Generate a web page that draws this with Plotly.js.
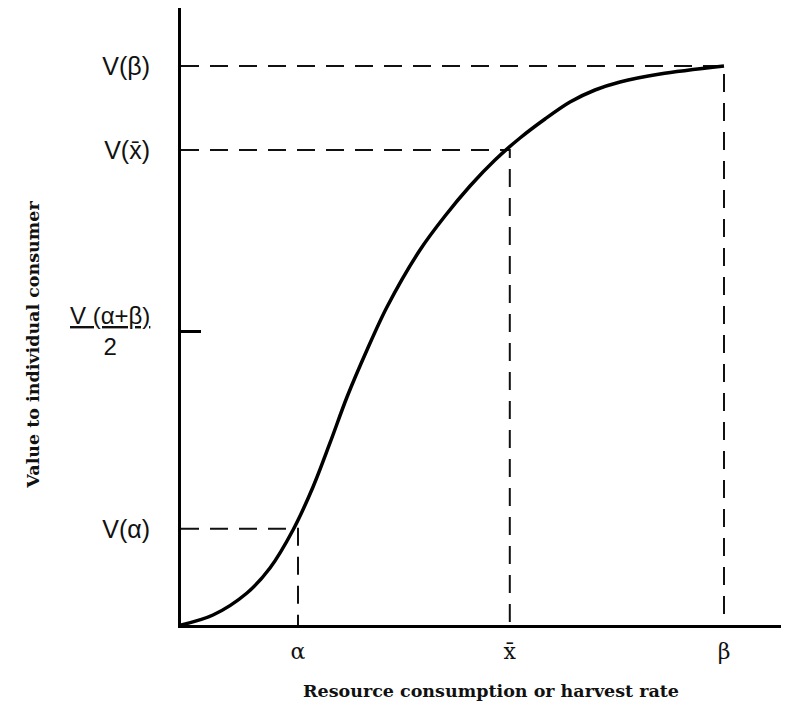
<!DOCTYPE html>
<html>
<head>
<meta charset="utf-8">
<script src="https://cdn.plot.ly/plotly-3.0.1.min.js"></script>
<style>html,body{margin:0;padding:0;background:#fff;}#chart{width:792px;height:711px;}</style>
</head>
<body>
<div id="chart"></div>
<script>
// Curve (x: 0-100 along the axis, y: 0-100 up the axis)
const curveX = [0, 5.33, 11.0, 14.83, 18.67, 22.0, 24.83, 27.67, 31.0, 34.33, 39.83, 44.0, 48.17, 52.33, 56.5, 60.67, 64.83, 69.0, 73.17, 79.83, 90.5];
const curveY = [0, 1.62, 5.19, 9.24, 15.40, 22.37, 29.50, 36.95, 44.57, 51.54, 60.78, 66.29, 71.15, 75.36, 78.93, 82.01, 84.76, 86.71, 88.01, 89.30, 90.6];

// Marked positions
const markX = [19.5, 54.8, 90.5];          // alpha, x-bar, beta
const markV = [15.6, 77.0, 90.6];          // V(alpha), V(x-bar), V(beta)
const midValue = 47.6;                     // V(alpha+beta)/2

const xTickText = ['α', 'x̄', 'β'];
const yTickVals = [markV[2], markV[1], markV[0]];
const yTickText = ['V(β)', 'V(x̄)', 'V(α)'];
const midLabel = "<span style='text-decoration:underline'>V (α+β)</span><br>2";
const xTitle = 'Resource consumption or harvest rate';
const yTitle = 'Value to individual consumer';

const traces = [];
// dashed guide lines (L-shaped: from y axis to the curve, then down to x axis)
for (let i = 0; i < markX.length; i++) {
  traces.push({
    x: [0, markX[i], markX[i]],
    y: [markV[i], markV[i], 0],
    mode: 'lines',
    line: {color: '#111', width: 2, dash: '18px,11px'},
    hoverinfo: 'skip', showlegend: false
  });
}
traces.push({
  x: curveX, y: curveY, mode: 'lines',
  line: {color: '#000', width: 3.5, shape: 'spline', smoothing: 0.9},
  hoverinfo: 'skip', showlegend: false
});
// invisible trace on second y axis to carry the single inside tick
traces.push({x: [0], y: [midValue], yaxis: 'y2', mode: 'markers', marker: {opacity: 0}, hoverinfo: 'skip', showlegend: false});

const layout = {
  width: 792, height: 711,
  margin: {l: 181, r: 11, t: 8, b: 86},
  paper_bgcolor: '#fff', plot_bgcolor: '#fff',
  xaxis: {
    range: [0, 100], showgrid: false, zeroline: false,
    showline: true, linecolor: '#000', linewidth: 3,
    tickmode: 'array', tickvals: markX, ticktext: xTickText,
    ticks: '', ticklabelstandoff: 5,
    tickfont: {family: 'DejaVu Serif', size: 22, color: '#111'}
  },
  yaxis: {
    range: [0, 100], showgrid: false, zeroline: false,
    showline: true, linecolor: '#000', linewidth: 3,
    tickmode: 'array', tickvals: yTickVals, ticktext: yTickText,
    ticks: '', ticklabelstandoff: 23,
    tickfont: {family: 'Liberation Sans', size: 25, color: '#111'}
  },
  yaxis2: {
    range: [0, 100], overlaying: 'y', side: 'left', showgrid: false, zeroline: false,
    showline: false, tickmode: 'array', tickvals: [midValue],
    ticks: 'inside', ticklen: 20, tickwidth: 3, tickcolor: '#000', showticklabels: false
  },
  annotations: [
    {text: midLabel, xref: 'paper', yref: 'y', x: -0.118, y: midValue, xanchor: 'center', yanchor: 'middle',
     showarrow: false, align: 'center', font: {family: 'Liberation Sans', size: 24, color: '#111'}},
    {text: '<b>' + xTitle + '</b>', xref: 'paper', yref: 'paper', x: 0.517, y: -0.107,
     xanchor: 'center', yanchor: 'middle', showarrow: false,
     font: {family: 'DejaVu Serif', size: 17.5, color: '#111'}},
    {text: '<b>' + yTitle + '</b>', xref: 'paper', yref: 'paper', x: -0.247, y: 0.454,
     xanchor: 'center', yanchor: 'middle', textangle: -90, showarrow: false,
     font: {family: 'DejaVu Serif', size: 17.5, color: '#111'}}
  ]
};

Plotly.newPlot('chart', traces, layout, {staticPlot: true, displayModeBar: false});
</script>
</body>
</html>
